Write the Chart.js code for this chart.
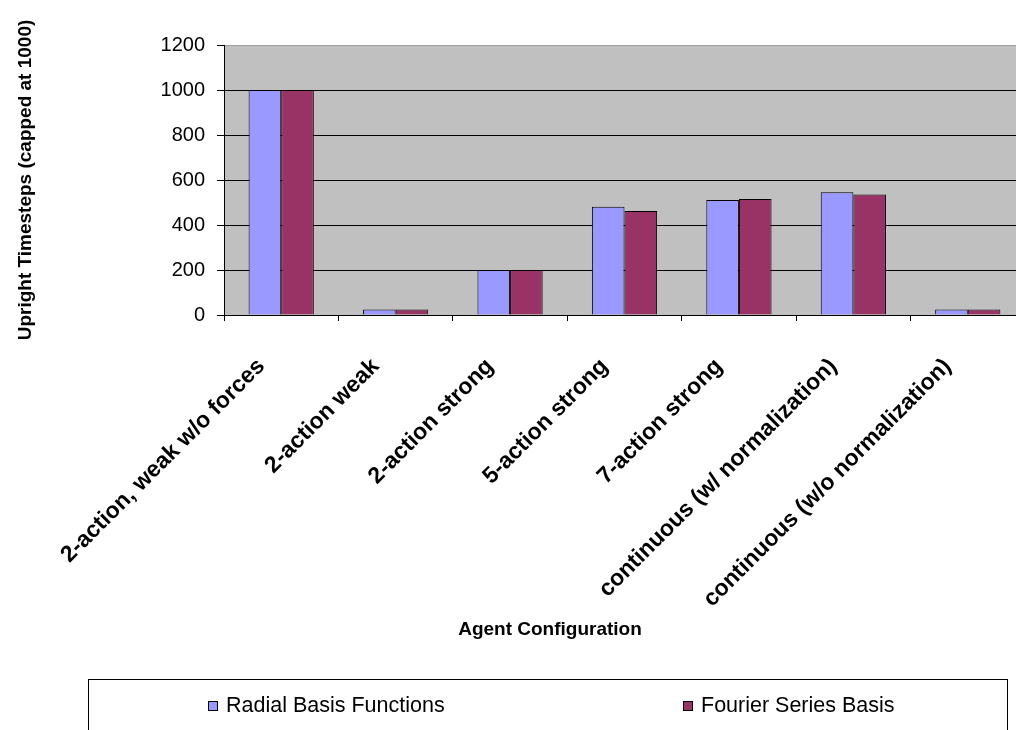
<!DOCTYPE html>
<html>
<head>
<meta charset="utf-8">
<script src="https://cdn.jsdelivr.net/npm/chart.js@4"></script>
<style>
  html, body { margin: 0; padding: 0; background: #fff; overflow: hidden; }
  #wrap { width: 1016px; height: 730px; overflow: hidden; }
</style>
</head>
<body>
<div id="wrap">
  <canvas id="chart" width="1040" height="730"></canvas>
</div>
<script>
const categories = [
  '2-action, weak w/o forces',
  '2-action weak',
  '2-action strong',
  '5-action strong',
  '7-action strong',
  'continuous (w/ normalization)',
  'continuous (w/o normalization)'
];
const seriesNames = ['Radial Basis Functions', 'Fourier Series Basis'];
const rbfValues = [1000, 25, 200, 481, 511, 546, 25];
const fourierValues = [1000, 25, 200, 462, 516, 536, 25];
const yTicks = [0, 200, 400, 600, 800, 1000, 1200];

const FONT = "'Liberation Sans', Arial, sans-serif";

// grey plot area behind the bars
const plotBackground = {
  id: 'plotBackground',
  beforeDraw(chart) {
    const { ctx, chartArea: a } = chart;
    ctx.save();
    ctx.fillStyle = '#c0c0c0';
    ctx.fillRect(a.left, a.top, a.right - a.left, a.bottom - a.top);
    ctx.restore();
  }
};

// axis title under the labels and the boxed legend at the bottom
const bottomParts = {
  id: 'bottomParts',
  afterDraw(chart) {
    const ctx = chart.ctx;
    ctx.save();
    ctx.fillStyle = '#000';
    ctx.font = 'bold 19px ' + FONT;
    ctx.textAlign = 'center';
    ctx.textBaseline = 'middle';
    ctx.fillText('Agent Configuration', 550, 630);

    ctx.strokeStyle = '#000';
    ctx.lineWidth = 1;
    ctx.strokeRect(88.5, 679.5, 919, 80);

    const items = [
      { x: 208, text: seriesNames[0], color: chart.data.datasets[0].backgroundColor },
      { x: 683, text: seriesNames[1], color: chart.data.datasets[1].backgroundColor }
    ];
    ctx.font = '21.5px ' + FONT;
    ctx.textAlign = 'left';
    items.forEach(it => {
      ctx.fillStyle = it.color;
      ctx.fillRect(it.x, 701, 10, 10);
      ctx.strokeRect(it.x + 0.5, 701.5, 9, 9);
      ctx.fillStyle = '#000';
      ctx.fillText(it.text, it.x + 18, 706);
    });
    ctx.restore();
  }
};

new Chart(document.getElementById('chart'), {
  type: 'bar',
  data: {
    labels: categories,
    datasets: [
      {
        label: seriesNames[0],
        data: rbfValues,
        backgroundColor: '#9999ff',
        borderColor: '#000',
        borderWidth: 1
      },
      {
        label: seriesNames[1],
        data: fourierValues,
        backgroundColor: '#993366',
        borderColor: '#000',
        borderWidth: 1
      }
    ]
  },
  options: {
    responsive: false,
    animation: false,
    categoryPercentage: 0.57,
    barPercentage: 1.0,
    layout: { padding: { top: 45, right: 15, left: 0, bottom: 0 } },
    plugins: {
      legend: { display: false },
      tooltip: { enabled: false }
    },
    scales: {
      x: {
        afterFit(scale) { scale.height = 415; },
        grid: {
          offset: true,
          drawOnChartArea: false,
          drawTicks: true,
          tickLength: 6,
          color: '#000'
        },
        border: { color: '#000', width: 1 },
        ticks: {
          autoSkip: false,
          minRotation: 45,
          maxRotation: 45,
          padding: 32,
          labelOffset: -20,
          color: '#000',
          font: { family: FONT, size: 23, weight: 'bold' }
        }
      },
      y: {
        min: 0,
        max: 1200,
        afterFit(scale) { scale.width = 224; },
        afterBuildTicks(scale) { scale.ticks = yTicks.map(v => ({ value: v })); },
        grid: {
          color: ctx => (ctx.tick && ctx.tick.value === 1200 ? '#a0a0a0' : '#000'),
          tickColor: '#000',
          tickLength: 7,
          lineWidth: 1
        },
        border: { color: '#000', width: 1 },
        ticks: {
          padding: 12,
          color: '#000',
          font: { family: FONT, size: 20 },
          callback: v => String(v)
        },
        title: {
          display: true,
          text: 'Upright Timesteps (capped at 1000)',
          color: '#000',
          font: { family: FONT, size: 19, weight: 'bold' },
          padding: { top: 14, bottom: 0 }
        }
      }
    }
  },
  plugins: [plotBackground, bottomParts]
});
</script>
</body>
</html>
